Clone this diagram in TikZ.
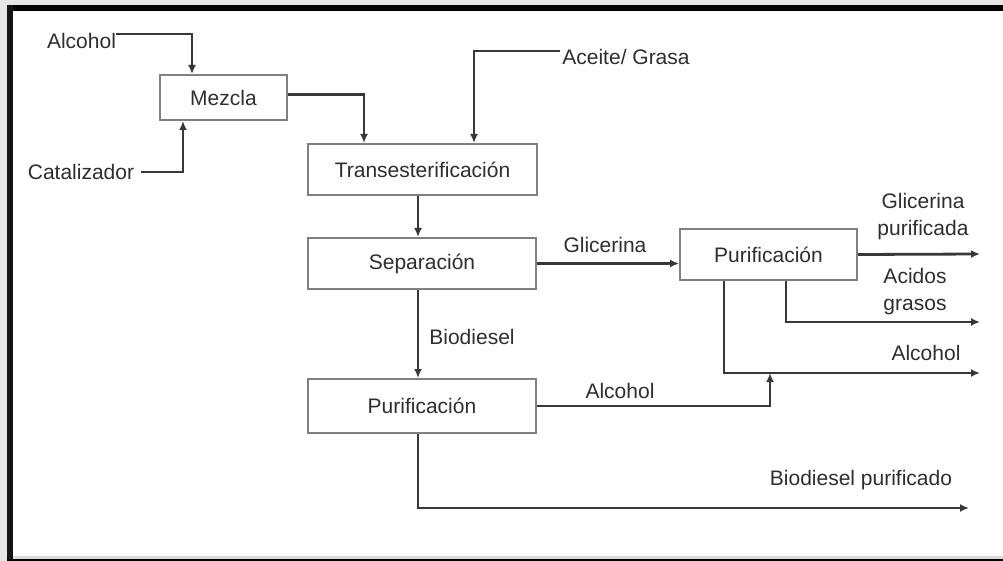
\documentclass[tikz,border=0pt]{standalone}
\usepackage{fontspec}
\setmainfont{Liberation Sans}
\usetikzlibrary{arrows.meta,calc}
\begin{document}
\begin{tikzpicture}[x=1pt,y=-1pt,
  lbl/.style={inner sep=0pt, font=\fontsize{21}{27}\selectfont, text=black!82},
  box/.style={draw=black!50, line width=2pt, fill=white, inner sep=0pt, font=\fontsize{21}{27}\selectfont, text=black!82},
  flow/.style={draw=black!78, line width=2.8pt},
  arr/.style={flow, -{Latex[length=9pt,width=8pt]}}]
\useasboundingbox (0,0) rectangle (1003,561);
\fill[white] (0,0) rectangle (1003,561);
\fill[black!10] (0,0) rectangle (1003,5);
\fill[black!10] (0,0) rectangle (7,561);
\fill[black] (7,5) rectangle (1003,11);
\fill[black!92] (7,5) rectangle (13,561);
\fill[black!15] (13,556) rectangle (1003,559);
\fill[black] (7,559) rectangle (1003,561);
% boxes
\node[box, minimum width=127pt, minimum height=45pt] (mezcla) at (223.5,97.5) {Mezcla};
\node[box, minimum width=229pt, minimum height=51pt] (trans) at (422.5,169.5) {Transesterificación};
\node[box, minimum width=228pt, minimum height=51pt] (sep) at (422,263.5) {Separación};
\node[box, minimum width=177pt, minimum height=51pt] (pur2) at (768.5,254.5) {Purificación};
\node[box, minimum width=228pt, minimum height=54pt] (pur1) at (422,406) {Purificación};
% labels
\node[lbl] (alc1) at (81.5,41) {Alcohol};
\node[lbl] (cat) at (81,172) {Catalizador};
\node[lbl] (aceite) at (626,57) {Aceite/ Grasa};
\node[lbl] (glic) at (605,245) {Glicerina};
\node[lbl, align=center] (glicp) at (923,217) {Glicerina\\purificada};
\node[lbl, align=center] (acid) at (915,292) {Acidos\\grasos};
\node[lbl] (alc2) at (926,353) {Alcohol};
\node[lbl] (alc3) at (620,391) {Alcohol};
\node[lbl] (biod) at (472,337) {Biodiesel};
\node[lbl] (biodp) at (861,480) {Biodiesel purificado};
% free ends
\coordinate (oG) at (980,254);
\coordinate (oA) at (980,322);
\coordinate (oL) at (980,373);
\coordinate (oB) at (969,508);
\coordinate (mj) at (770,373);
% connectors
\draw[arr] ([yshift=7pt]alc1.east) -| ([xshift=-31.5pt]mezcla.north);
\draw[arr] ([xshift=7pt]cat.east) -| ([xshift=-40.5pt]mezcla.south);
\draw[arr] ([yshift=3pt]mezcla.east) -| ([xshift=-58.5pt]trans.north);
\draw[arr] ([yshift=6pt,xshift=-2pt]aceite.west) -| ([xshift=51.5pt]trans.north);
\draw[arr] ([xshift=-4.5pt]trans.south) -- ([xshift=-4pt]sep.north);
\draw[arr] (sep.east) -- (sep.east -| pur2.west);
\draw[arr] ([xshift=-4pt]sep.south) -- ([xshift=-4pt]pur1.north);
\draw[arr] (pur2.east) -- (oG);
\draw[arr] ([xshift=17.5pt]pur2.south) |- (oA);
\draw[arr] ([xshift=-44.5pt]pur2.south) |- (oL);
\draw[arr] (pur1.east) -| (mj);
\draw[arr] ([xshift=-4pt]pur1.south) |- (oB);
\end{tikzpicture}
\end{document}
